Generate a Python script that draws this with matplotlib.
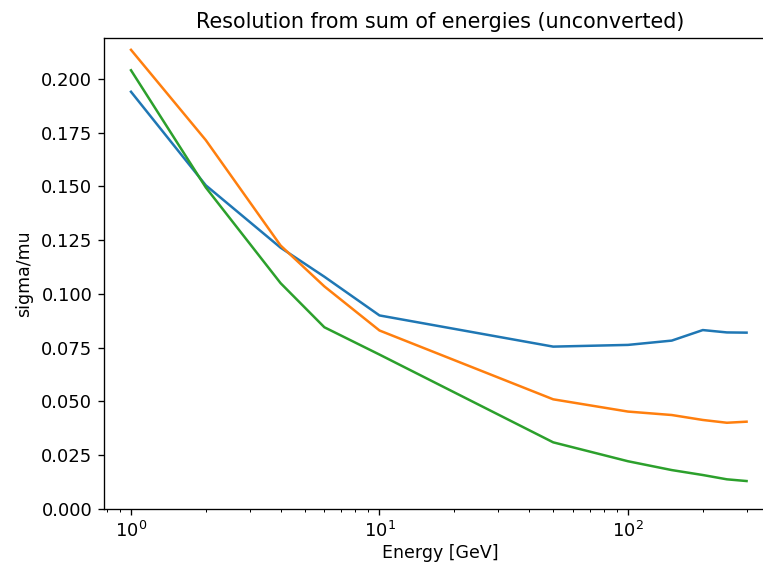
import numpy as np
import matplotlib.pyplot as plt

# energies [GeV] and resolution curves
energy = [1, 2, 4, 6, 10, 50, 100, 150, 200, 250, 300]
res_blue = [0.194, 0.1505, 0.1215, 0.108, 0.0900, 0.0755, 0.0763, 0.0783, 0.0832, 0.0821, 0.0820]
res_orange = [0.2135, 0.1715, 0.1225, 0.1035, 0.0830, 0.0510, 0.0453, 0.0437, 0.0414, 0.0401, 0.0406]
res_green = [0.2040, 0.1495, 0.1050, 0.0845, 0.0718, 0.0310, 0.0222, 0.0181, 0.0158, 0.0138, 0.0130]

dpi = 120
fig = plt.figure(figsize=(763 / dpi, 563 / dpi), dpi=dpi)
# axes extend past the right edge like the cropped original
ax = fig.add_axes([104 / 763, 54 / 563, (777 - 104) / 763, (509 - 38) / 563])

ax.plot(energy, res_blue)
ax.plot(energy, res_orange)
ax.plot(energy, res_green)

ax.set_xscale('log')
# 1 GeV at x=131px, one decade = 248.5px
ax.set_xlim(10 ** (-27 / 248.5), 10 ** ((777 - 131) / 248.5))
ax.set_ylim(0, 0.219)
ax.tick_params(labelsize=10.8)
ax.set_title('Resolution from sum of energies (unconverted)', fontsize=12.4, pad=6)
ax.set_xlabel('Energy [GeV]', fontsize=10.4, labelpad=2)
ax.set_ylabel('sigma/mu', fontsize=10.4, labelpad=5)

fig.savefig('out.png', dpi=dpi)
